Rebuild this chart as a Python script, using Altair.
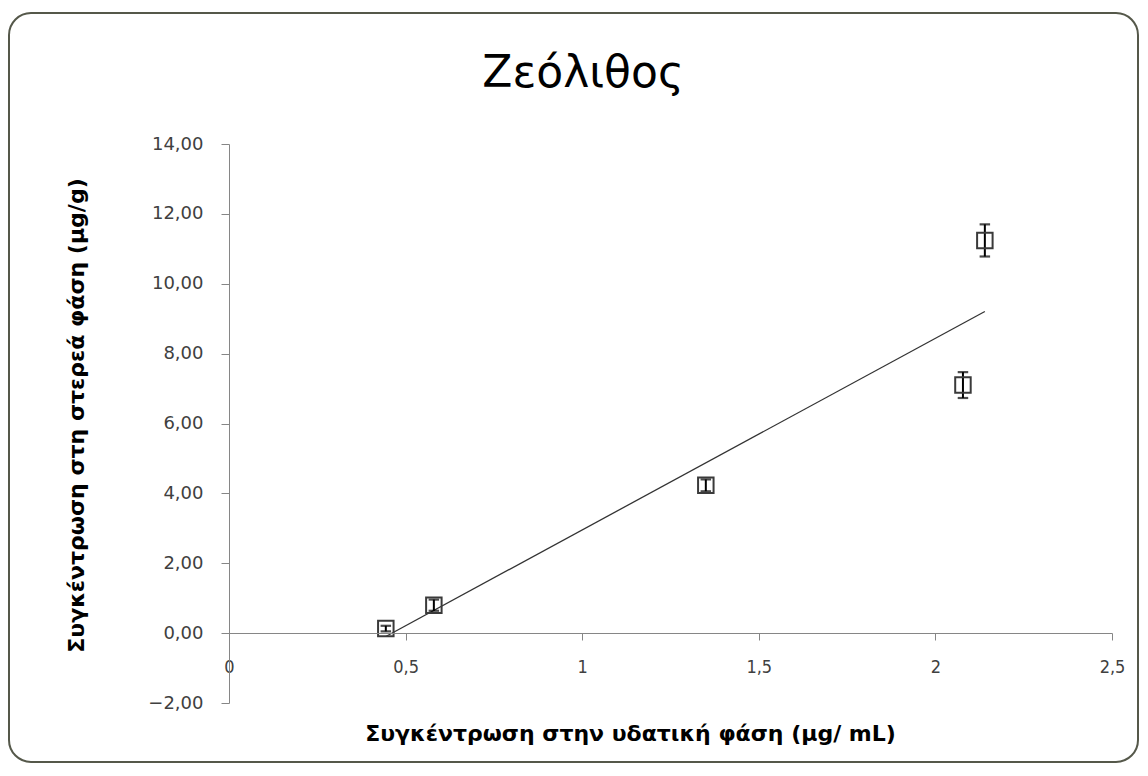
import altair as alt
import pandas as pd

# Data
x_vals = [0.444, 0.58, 1.35, 2.078, 2.14]
y_vals = [0.13, 0.80, 4.23, 7.10, 11.24]
y_err = [0.08, 0.16, 0.17, 0.37, 0.46]

x_ticks = [0, 0.5, 1, 1.5, 2, 2.5]
y_ticks = [-2, 0, 2, 4, 6, 8, 10, 12, 14]

title_text = ["Ζεόλιθος"]
x_title = "Συγκέντρωση στην υδατική φάση (μg/ mL)"
y_title = "Συγκέντρωση στη στερεά φάση (μg/g)"

df = pd.DataFrame({"x": x_vals, "y": y_vals, "err": y_err})
df["lo"] = df["y"] - df["err"]
df["hi"] = df["y"] + df["err"]

FONT = "DejaVu Sans"
AXIS_COLOR = "#868686"
LABEL_COLOR = "#404040"

xscale = alt.Scale(domain=[0, 2.5], nice=False, zero=False)
yscale = alt.Scale(domain=[-2, 14], nice=False, zero=False)

xaxis = alt.Axis(
    values=x_ticks,
    title=x_title,
    offset=-70,
    grid=False,
    zindex=1,
    domainColor=AXIS_COLOR,
    tickColor=AXIS_COLOR,
    tickSize=7,
    labelPadding=18,
    labelFlush=False,
    labelFont="DejaVu Sans Condensed, DejaVu Sans",
    labelFontSize=18,
    labelColor=LABEL_COLOR,
    labelExpr="replace(format(datum.value, '~g'), '.', ',')",
    titleFont=FONT,
    titleFontSize=22,
    titleFontWeight="bold",
    titleColor="black",
    titlePadding=47,
    titleX=401,
    titleAlign="center",
)
yaxis = alt.Axis(
    values=y_ticks,
    title=y_title,
    grid=False,
    zindex=1,
    domainColor=AXIS_COLOR,
    tickColor=AXIS_COLOR,
    tickSize=8,
    labelPadding=18,
    labelFont=FONT,
    labelFontSize=18,
    labelColor=LABEL_COLOR,
    labelExpr="replace(format(datum.value, '.2f'), '.', ',')",
    titleFont=FONT,
    titleFontSize=22,
    titleFontWeight="bold",
    titleColor="black",
    titlePadding=59,
    titleY=271,
    titleAlign="center",
)

frame = alt.Chart(pd.DataFrame({"a": [0]})).mark_rect(
    fillOpacity=0, stroke="#55584a", strokeWidth=2, cornerRadius=22
).encode(
    x=alt.value(-220), x2=alt.value(909), y=alt.value(-131), y2=alt.value(618)
)

title = alt.Chart(pd.DataFrame({"t": title_text})).mark_text(
    font=FONT, fontSize=44, color="black", align="center", baseline="alphabetic"
).encode(text="t:N", x=alt.value(354), y=alt.value(-57))

base = alt.Chart(df)

trend = base.transform_regression("x", "y").mark_line(
    color="#333333", strokeWidth=1.3
).encode(
    x=alt.X("x:Q", scale=xscale, axis=xaxis),
    y=alt.Y("y:Q", scale=yscale, axis=yaxis),
)

bars = base.mark_rule(color="black", strokeWidth=2).encode(
    x=alt.X("x:Q", scale=xscale),
    y=alt.Y("lo:Q", scale=yscale),
    y2="hi:Q",
)

cap_lo = base.mark_point(
    shape="M-1,0H1", size=110, filled=False, stroke="black", strokeWidth=2.2
).encode(x=alt.X("x:Q", scale=xscale), y=alt.Y("lo:Q", scale=yscale))
cap_hi = base.mark_point(
    shape="M-1,0H1", size=110, filled=False, stroke="black", strokeWidth=2.2
).encode(x=alt.X("x:Q", scale=xscale), y=alt.Y("hi:Q", scale=yscale))

points = base.mark_point(
    shape="square", size=240, filled=False, stroke="#3a3a3a", strokeWidth=2, opacity=1
).encode(x=alt.X("x:Q", scale=xscale), y=alt.Y("y:Q", scale=yscale))

chart = alt.layer(frame, title, trend, bars, cap_lo, cap_hi, points).properties(
    width=883,
    height=559,
    autosize=alt.AutoSizeParams(type="none"),
    padding={"left": 221, "top": 136, "right": 28, "bottom": 61},
).configure(background="white").configure_view(stroke=None)

chart.save("out.html", embed_options={"renderer": "svg", "actions": False})
